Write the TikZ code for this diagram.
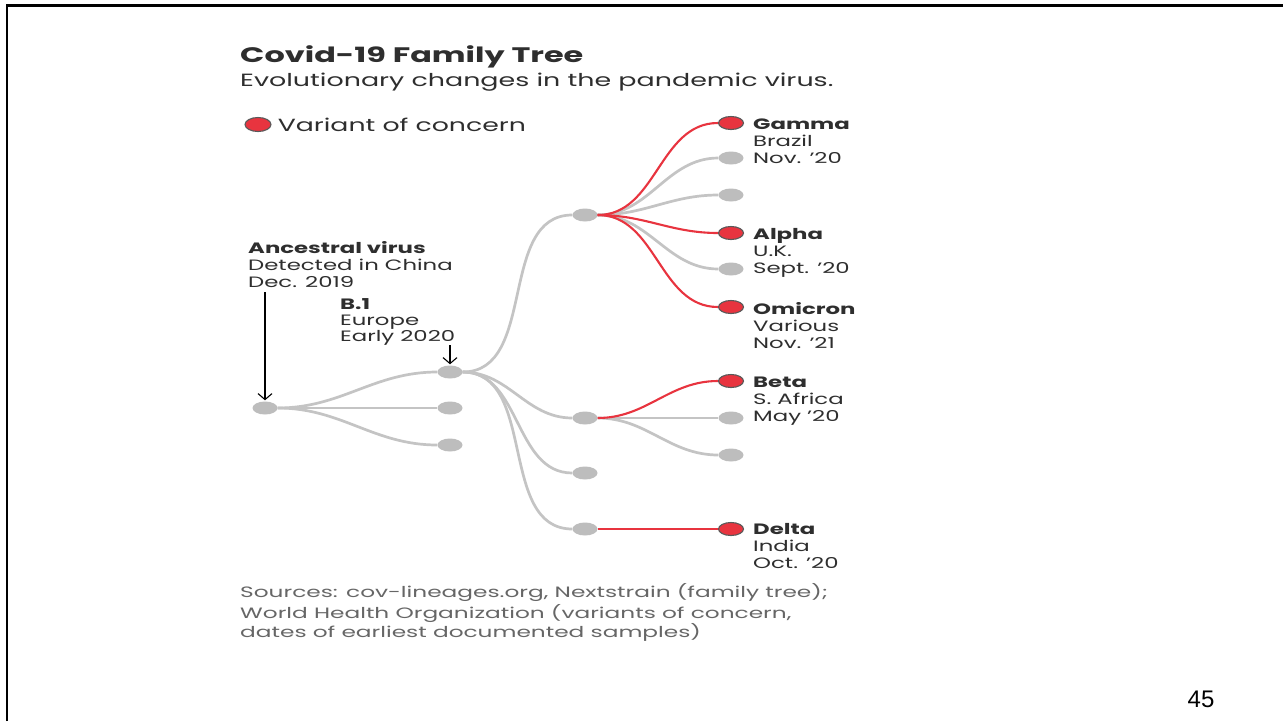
\documentclass[tikz,border=0pt]{standalone}
\usepackage{fontspec}
\setmainfont{Poppins}[FakeStretch=1.52]
\newfontfamily\notefont{Poppins}[FakeStretch=1.55]
\newfontfamily\slidefont{Liberation Sans}
\usetikzlibrary{shapes.geometric,arrows.meta,positioning}

\definecolor{ink}{HTML}{2E2E2E}
\definecolor{note}{HTML}{666666}
\definecolor{twiggray}{HTML}{C4C4C4}
\definecolor{budgray}{HTML}{BDBDBD}
\definecolor{vocred}{HTML}{E8343F}
\definecolor{rim}{HTML}{5A5A5A}

\newcommand{\labelsize}{\fontsize{15}{17}\selectfont}

\tikzset{
  bud/.style={ellipse, inner sep=0pt, minimum width=25pt, minimum height=13pt, fill=budgray},
  voc/.style={bud, fill=vocred, draw=rim, line width=1.1pt},
  twig/.style={draw=twiggray, line width=2.7pt, out=0, in=180},
  hot/.style={twig, draw=vocred, line width=2.1pt},
  tag/.style={anchor=north west, inner sep=0pt, align=left, text=ink, font=\labelsize},
  pointer/.style={draw=black, line width=1.1pt, shorten >=1pt, -{Straight Barb[length=6pt,width=14pt]}}
}

\begin{document}
\begin{tikzpicture}[x=1pt, y=-1pt]
  \useasboundingbox (0,0) rectangle (1283,721);
  \fill[white] (0,0) rectangle (1283,721);
  % slide frame
  \draw[line width=2.6pt] (7,721) -- (7,5.5) -- (1283,5.5);

  % heading and legend
  \node[anchor=base west, inner sep=0pt, text=ink, font=\fontsize{21}{25}\selectfont\bfseries] (title) at (240,62.5) {Covid-19 Family Tree};
  \node[anchor=base west, inner sep=0pt, text=ink, font=\fontsize{17.7}{22}\selectfont] (subtitle) at (240,86) {Evolutionary changes in the pandemic virus.};
  \node[voc, minimum width=26pt, minimum height=14pt] (key) at (258,124.5) {};
  \node[right=6pt of key, inner sep=0pt, text=ink, font=\fontsize{17.6}{22}\selectfont] (keytext) {Variant of concern};

  % tree
  \node[bud] (anc) at (265,408) {};
  \node[bud] (b1) at (450,372) {};
  \node[bud] (a2) at (450,408) {};
  \node[bud] (a3) at (450,445) {};
  \node[bud] (n1) at (585,215) {};
  \node[bud] (n2) at (585,418) {};
  \node[bud] (n3) at (585,473) {};
  \node[bud] (n4) at (585,529) {};
  \node[voc] (gamma) at (731,123) {};
  \node[bud] (g2) at (731,158) {};
  \node[bud] (g3) at (731,195) {};
  \node[voc] (alpha) at (731,233) {};
  \node[bud] (g5) at (731,269) {};
  \node[voc] (omicron) at (731,307) {};
  \node[voc] (beta) at (731,381) {};
  \node[bud] (e2) at (731,418) {};
  \node[bud] (e3) at (731,455) {};
  \node[voc] (delta) at (731,529) {};

  \foreach \a/\b in {anc/b1, anc/a2, anc/a3, b1/n1, b1/n2, b1/n3, b1/n4,
                     n1/g2, n1/g3, n1/g5, n2/e2, n2/e3}
    \draw[twig] (\a) to (\b);
  \foreach \a/\b in {n1/gamma, n1/alpha, n1/omicron, n2/beta, n4/delta}
    \draw[hot] (\a) to (\b);

  % labels
  \node[tag, font=\fontsize{15}{16.2}\selectfont] (ancTag) at (248,241.5) {\strut\textbf{Ancestral virus}\\Detected in China\\Dec. 2019};
  \node[tag, font=\fontsize{15}{16.2}\selectfont] (b1Tag) at (340,297.5) {\strut\textbf{B.1}\\Europe\\Early 2020};
  \node[tag] (gammaTag) at (753,117.5) {\strut\textbf{Gamma}\\Brazil\\Nov. ’20};
  \node[tag] (alphaTag) at (753,227.5) {\strut\textbf{Alpha}\\U.K.\\Sept. ’20};
  \node[tag] (omicronTag) at (753,302.5) {\strut\textbf{Omicron}\\Various\\Nov. ’21};
  \node[tag] (betaTag) at (753,375.5) {\strut\textbf{Beta}\\S. Africa\\May ’20};
  \node[tag] (deltaTag) at (753,522.5) {\strut\textbf{Delta}\\India\\Oct. ’20};

  \coordinate (ancDrop) at (265,292);
  \coordinate (b1Drop) at (450,345);
  \draw[pointer] (ancDrop) -- (anc);
  \draw[pointer] (b1Drop) -- (b1);

  % footnote
  \node[tag, text=note, font=\notefont\fontsize{15}{18}\selectfont] (sources) at (240,583.5) {\strut Sources: cov-lineages.org, Nextstrain (family tree);\\World Health Organization (variants of concern,\\dates of earliest documented samples)};

  \node[anchor=base, inner sep=0pt, font=\slidefont\fontsize{24}{28}\selectfont] (page) at (1201,707) {45};
\end{tikzpicture}
\end{document}
